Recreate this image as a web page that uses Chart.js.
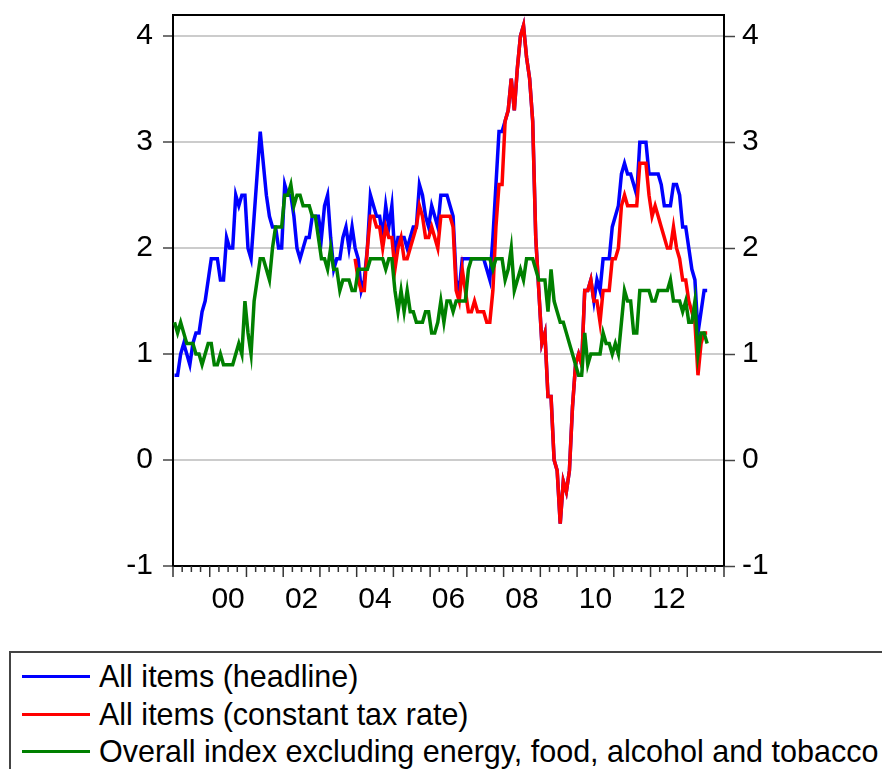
<!DOCTYPE html>
<html>
<head>
<meta charset="utf-8">
<script src="https://cdn.jsdelivr.net/npm/chart.js@4.4.0/dist/chart.umd.min.js"></script>
<style>
  html, body { margin: 0; padding: 0; background: #fff; }
  #wrap { position: relative; width: 882px; height: 769px; overflow: hidden; }
  #chart { position: absolute; left: 0; top: 0; }
  #legend {
    position: absolute; left: 9px; top: 651px; width: 900px; height: 140px;
    box-sizing: border-box; padding-top: 5px;
    border-left: 2px solid #444; border-top: 2px solid #444;
    font: 30.5px 'Liberation Sans', Arial, sans-serif; color: #000;
  }
  .item { height: 37.5px; line-height: 37.5px; white-space: nowrap; }
  .swatch { display: inline-block; width: 68px; height: 3px; vertical-align: middle;
            position: relative; top: -2px; margin: 0 9px 0 11px; }
</style>
</head>
<body>
<div id="wrap">
  <canvas id="chart" width="882" height="640"></canvas>
  <div id="legend"></div>
</div>
<script>
// monthly annual rates of change, Jan 1999 - Jul 2013
const startYear = 1999;

const headline = [
    0.8, 0.8, 1.0, 1.1, 1.0, 0.9, 1.1, 1.2, 1.2, 1.4, 1.5, 1.7, // 1999
    1.9, 1.9, 1.9, 1.7, 1.7, 2.1, 2.0, 2.0, 2.5, 2.4, 2.5, 2.5, // 2000
    2.0, 1.9, 2.3, 2.7, 3.1, 2.8, 2.5, 2.3, 2.2, 2.2, 2.0, 2.0, // 2001
    2.6, 2.5, 2.5, 2.3, 2.0, 1.9, 2.0, 2.1, 2.1, 2.3, 2.3, 2.3, // 2002
    2.1, 2.4, 2.5, 2.1, 1.8, 1.9, 1.9, 2.1, 2.2, 2.0, 2.2, 2.0, // 2003
    1.9, 1.6, 1.7, 2.0, 2.5, 2.4, 2.3, 2.3, 2.1, 2.4, 2.2, 2.4, // 2004
    1.9, 2.1, 2.1, 2.1, 2.0, 2.1, 2.2, 2.2, 2.6, 2.5, 2.3, 2.2, // 2005
    2.4, 2.3, 2.2, 2.5, 2.5, 2.5, 2.4, 2.3, 1.7, 1.6, 1.9, 1.9, // 2006
    1.9, 1.9, 1.9, 1.9, 1.9, 1.9, 1.8, 1.7, 2.1, 2.6, 3.1, 3.1, // 2007
    3.2, 3.3, 3.6, 3.3, 3.7, 4.0, 4.1, 3.8, 3.6, 3.2, 2.1, 1.6, // 2008
    1.1, 1.2, 0.6, 0.6, 0.0, -0.1, -0.6, -0.2, -0.3, -0.1, 0.5, 0.9, // 2009
    1.0, 0.9, 1.6, 1.6, 1.7, 1.5, 1.7, 1.6, 1.9, 1.9, 1.9, 2.2, // 2010
    2.3, 2.4, 2.7, 2.8, 2.7, 2.7, 2.6, 2.5, 3.0, 3.0, 3.0, 2.7, // 2011
    2.7, 2.7, 2.7, 2.6, 2.4, 2.4, 2.4, 2.6, 2.6, 2.5, 2.2, 2.2, // 2012
    2.0, 1.8, 1.7, 1.2, 1.4, 1.6, 1.6                           // 2013
];

// constant tax rate series starts Dec 2003 (month index 59)
const constTaxStart = 59;
const constTax = [
    1.9,                                                        // Dec 2003
    1.7, 1.6, 1.6, 2.0, 2.3, 2.3, 2.2, 2.2, 2.0, 2.2, 2.1, 2.1, // 2004
    1.8, 2.0, 2.1, 1.9, 1.9, 2.0, 2.1, 2.2, 2.4, 2.3, 2.1, 2.1, // 2005
    2.2, 2.1, 2.0, 2.3, 2.3, 2.3, 2.3, 2.2, 1.6, 1.5, 1.8, 1.6, // 2006
    1.4, 1.4, 1.5, 1.4, 1.4, 1.4, 1.3, 1.3, 1.6, 2.2, 2.6, 2.6, // 2007
    3.2, 3.3, 3.6, 3.3, 3.7, 4.0, 4.1, 3.8, 3.6, 3.2, 2.1, 1.6, // 2008
    1.1, 1.2, 0.6, 0.6, 0.0, -0.1, -0.6, -0.2, -0.3, -0.1, 0.5, 0.9, // 2009
    1.0, 0.9, 1.6, 1.6, 1.7, 1.5, 1.5, 1.3, 1.6, 1.6, 1.6, 1.9, // 2010
    1.9, 2.0, 2.4, 2.5, 2.4, 2.4, 2.4, 2.4, 2.8, 2.8, 2.8, 2.5, // 2011
    2.3, 2.4, 2.3, 2.2, 2.1, 2.0, 2.0, 2.2, 2.0, 1.9, 1.7, 1.7, // 2012
    1.5, 1.4, 1.3, 0.8, 1.1, 1.2, 1.2                           // 2013
];

const core = [
    1.3, 1.2, 1.3, 1.2, 1.1, 1.1, 1.1, 1.0, 1.0, 0.9, 1.0, 1.1, // 1999
    1.1, 0.9, 0.9, 1.0, 0.9, 0.9, 0.9, 0.9, 1.0, 1.1, 1.0, 1.5, // 2000
    1.2, 1.0, 1.5, 1.7, 1.9, 1.9, 1.8, 1.7, 2.0, 2.2, 2.2, 2.2, // 2001
    2.5, 2.5, 2.6, 2.4, 2.5, 2.5, 2.4, 2.4, 2.4, 2.3, 2.3, 2.1, // 2002
    1.9, 1.9, 1.8, 2.0, 1.8, 1.8, 1.6, 1.7, 1.7, 1.7, 1.6, 1.6, // 2003
    1.8, 1.8, 1.8, 1.8, 1.9, 1.9, 1.9, 1.9, 1.9, 1.8, 1.9, 1.9, // 2004
    1.6, 1.4, 1.6, 1.4, 1.6, 1.4, 1.4, 1.3, 1.3, 1.3, 1.4, 1.4, // 2005
    1.2, 1.2, 1.3, 1.5, 1.3, 1.5, 1.5, 1.4, 1.5, 1.5, 1.5, 1.5, // 2006
    1.8, 1.9, 1.9, 1.9, 1.9, 1.9, 1.9, 1.9, 1.8, 1.9, 1.9, 1.9, // 2007
    1.7, 1.8, 2.0, 1.6, 1.7, 1.8, 1.7, 1.9, 1.9, 1.9, 1.8, 1.7, // 2008
    1.7, 1.7, 1.4, 1.8, 1.5, 1.4, 1.3, 1.3, 1.2, 1.1, 1.0, 0.9, // 2009
    0.8, 0.8, 1.2, 0.9, 1.0, 1.0, 1.0, 1.0, 1.2, 1.1, 1.1, 1.0, // 2010
    1.1, 1.0, 1.3, 1.6, 1.5, 1.5, 1.2, 1.2, 1.6, 1.6, 1.6, 1.6, // 2011
    1.5, 1.5, 1.6, 1.6, 1.6, 1.6, 1.7, 1.5, 1.5, 1.5, 1.4, 1.5, // 2012
    1.3, 1.3, 1.5, 1.0, 1.2, 1.2, 1.1                           // 2013
];

const seriesNames = [
    'All items (headline)',
    'All items (constant tax rate)',
    'Overall index excluding energy, food, alcohol and tobacco'
];
const seriesColors = ['#0000ff', '#ff0000', '#008000'];

const yTicks = [-1, 0, 1, 2, 3, 4];
const xFirst = 1999, xLast = 2014;

const fontFamily = "'Liberation Sans', Arial, sans-serif";

// observation sits in the middle of its month
function monthX(i) {
    return startYear + (i + 0.5) / 12;
}

function toPoints(values, offset) {
    return values.map((v, i) => ({ x: monthX(i + offset), y: v }));
}

// quarterly tick marks under the date axis + top of the frame
const frameTicks = {
    id: 'frameTicks',
    afterDraw(chart) {
        const { ctx, chartArea: a } = chart;
        const x = chart.scales.x;
        ctx.save();
        ctx.strokeStyle = '#000';
        ctx.lineWidth = 2;
        ctx.beginPath();
        ctx.moveTo(a.left - 1, a.top);
        ctx.lineTo(a.right + 1, a.top);
        ctx.stroke();

        ctx.strokeStyle = '#333';
        ctx.lineWidth = 1.5;
        for (let q = xFirst; q <= xLast; q += 0.25) {
            const px = x.getPixelForValue(q);
            const len = Number.isInteger(q) ? 11 : 6;
            ctx.beginPath();
            ctx.moveTo(px, a.bottom);
            ctx.lineTo(px, a.bottom + len);
            ctx.stroke();
        }
        ctx.restore();
    }
};

const tickFont = { size: 30, family: fontFamily };

// fixed axis sizes so the plot box lands where the original has it
function fixY(width) {
    return s => { s.width = width; s.paddingTop = 0; s.paddingBottom = 0; };
}

const chart = new Chart(document.getElementById('chart').getContext('2d'), {
    type: 'line',
    data: {
        datasets: [
            { label: seriesNames[0], data: toPoints(headline, 0), borderColor: seriesColors[0], order: 3 },
            { label: seriesNames[1], data: toPoints(constTax, constTaxStart), borderColor: seriesColors[1], order: 2 },
            { label: seriesNames[2], data: toPoints(core, 0), borderColor: seriesColors[2], order: 1 }
        ]
    },
    options: {
        responsive: false,
        animation: false,
        events: [],
        layout: { padding: { top: 15, left: 0, right: 0, bottom: 0 } },
        elements: {
            point: { radius: 0 },
            line: { borderWidth: 3.5, tension: 0, fill: false }
        },
        plugins: {
            legend: { display: false },
            tooltip: { enabled: false }
        },
        scales: {
            x: {
                type: 'linear',
                min: xFirst,
                max: xLast,
                grid: { display: true, drawOnChartArea: false, drawTicks: false },
                border: { display: true, color: '#000', width: 2 },
                ticks: {
                    stepSize: 0.5,
                    autoSkip: false,
                    maxRotation: 0,
                    padding: 16,
                    color: '#000',
                    font: tickFont,
                    callback: v => {
                        const yr = v - 0.5;
                        if (Number.isInteger(yr) && yr % 2 === 0) return String(yr % 100).padStart(2, '0');
                        return '';
                    }
                },
                afterFit: s => { s.height = 74; s.paddingLeft = 0; s.paddingRight = 0; }
            },
            y: {
                position: 'left',
                min: yTicks[0],
                max: 4.2,
                grid: { color: '#cccccc', lineWidth: 2, tickLength: 10, tickColor: '#444', tickWidth: 1.5 },
                border: { display: true, color: '#000', width: 2 },
                ticks: {
                    stepSize: 1,
                    includeBounds: false,
                    padding: 10,
                    color: '#000',
                    font: tickFont
                },
                afterFit: fixY(173)
            },
            y2: {
                position: 'right',
                min: yTicks[0],
                max: 4.2,
                grid: { drawOnChartArea: false, tickLength: 11, tickColor: '#444', tickWidth: 1.5 },
                border: { display: true, color: '#000', width: 2 },
                ticks: {
                    stepSize: 1,
                    includeBounds: false,
                    padding: 7,
                    color: '#000',
                    font: tickFont
                },
                afterFit: fixY(158)
            }
        }
    },
    plugins: [frameTicks]
});

// legend built from the chart's datasets, one per row
const legendBox = document.getElementById('legend');
chart.data.datasets.forEach(ds => {
    const row = document.createElement('div');
    row.className = 'item';
    const sw = document.createElement('span');
    sw.className = 'swatch';
    sw.style.background = ds.borderColor;
    row.appendChild(sw);
    row.appendChild(document.createTextNode(ds.label));
    legendBox.appendChild(row);
});
</script>
</body>
</html>
